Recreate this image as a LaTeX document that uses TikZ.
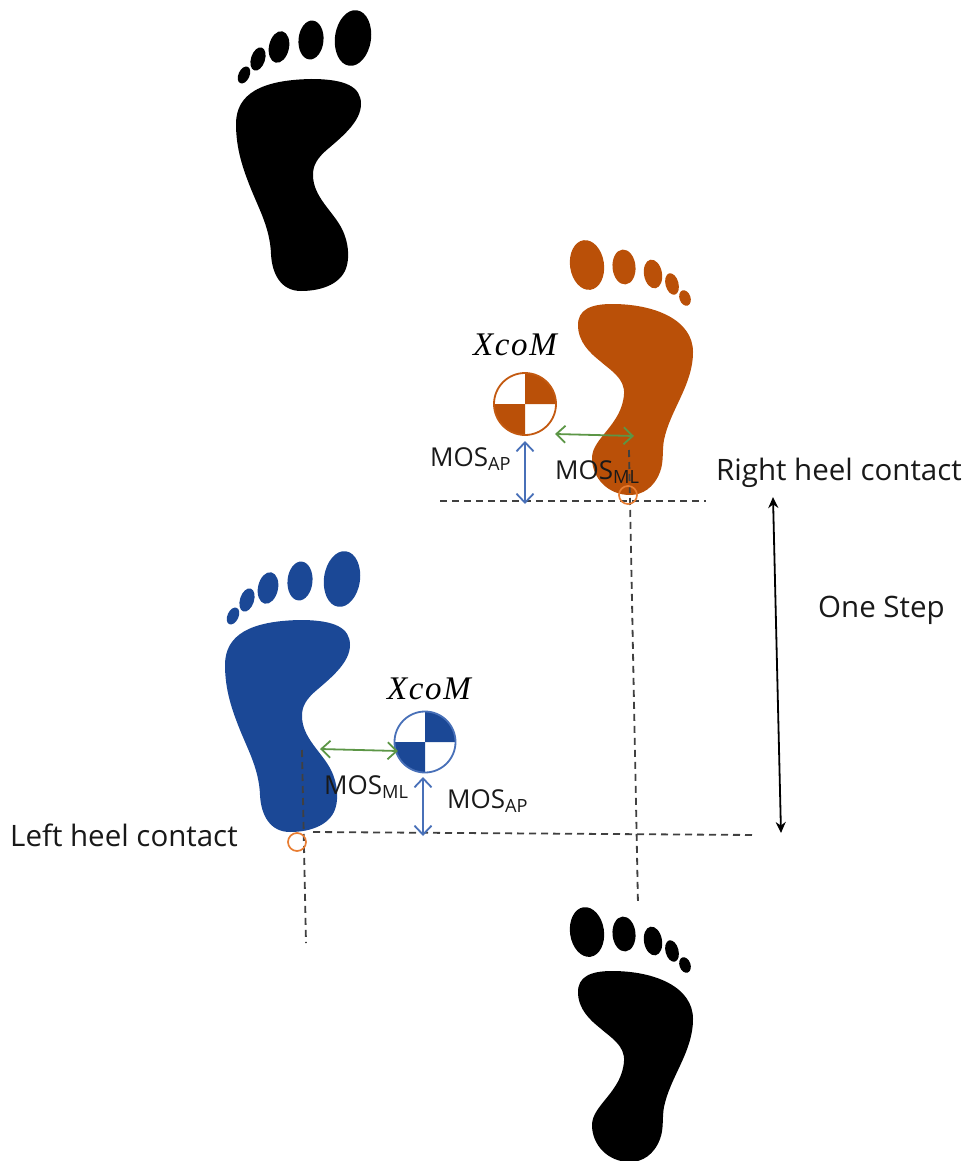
\documentclass[tikz,border=0pt]{standalone}
\usepackage{fontspec}
\setmainfont{Open Sans}
\newfontfamily\mathish{Liberation Serif}[LetterSpace=5]
\usetikzlibrary{arrows.meta}
\definecolor{footorange}{RGB}{186,80,8}
\definecolor{footblue}{RGB}{27,72,150}
\definecolor{arrowblue}{RGB}{72,112,184}
\definecolor{arrowgreen}{RGB}{92,150,70}
\definecolor{ringorange}{RGB}{232,125,50}
\tikzset{
  lbl/.style={inner sep=0pt,font=\fontsize{29.5}{34}\selectfont,text=black!90},
  mos/.style={inner sep=0pt,font=\fontsize{26}{30}\selectfont,text=black!90},
  xcom/.style={inner sep=0pt,font=\fontsize{33}{38}\mathish\itshape\selectfont},
  guide/.style={black!75,line width=1.8pt,dash pattern=on 7pt off 5pt},
  apline/.style={arrowblue,line width=1.8pt,{Straight Barb[length=9pt,width=17pt]}-{Straight Barb[length=9pt,width=17pt]}},
  mlline/.style={arrowgreen,line width=1.8pt,{Straight Barb[length=9pt,width=17pt]}-{Straight Barb[length=9pt,width=17pt]}},
  steparrow/.style={black,line width=1.8pt,{Stealth[length=11pt,width=10pt]}-{Stealth[length=11pt,width=10pt]}},
  heel/.style={circle,draw=ringorange,line width=1.7pt,minimum size=18pt,inner sep=0pt}
}
\newcommand{\leftfoot}[3]{%
 \begin{scope}[shift={(#1,#2)}]
  \fill[#3] (225,665) .. controls (225,635) and (250,621) .. (300,620)
    .. controls (335,620) and (350,628) .. (350,645)
    .. controls (350,662) and (332,677) .. (318,689)
    .. controls (306,699) and (302,706) .. (302,716)
    .. controls (302,738) and (322,752) .. (331,770)
    .. controls (338,784) and (338,798) .. (336,806)
    .. controls (332,824) and (312,832) .. (290,832)
    .. controls (270,832) and (261,815) .. (260,795)
    .. controls (259,770) and (249,752) .. (240,730)
    .. controls (232,710) and (225,690) .. (225,665) -- cycle;
  \fill[#3,rotate around={-8:(342,579)}] (342,579) ellipse [x radius=18,y radius=28];
  \fill[#3,rotate around={-5:(300,581)}] (300,581) ellipse [x radius=12.5,y radius=19.5];
  \fill[#3,rotate around={-12:(268,588)}] (268,588) ellipse [x radius=10,y radius=16];
  \fill[#3,rotate around={-18:(247,600)}] (247,600) ellipse [x radius=7,y radius=12];
  \fill[#3,rotate around={-25:(233,616)}] (233,616) ellipse [x radius=5.5,y radius=9];
 \end{scope}}
\newcommand{\rightfoot}[3]{%
 \begin{scope}[shift={(#1,#2)}]
  \fill[#3] (578,325) .. controls (578,310) and (590,304) .. (612,304)
    .. controls (655,304) and (693,320) .. (693,352)
    .. controls (693,385) and (670,410) .. (664,440)
    .. controls (662,450) and (664,462) .. (660,472)
    .. controls (654,488) and (642,495) .. (630,495)
    .. controls (608,495) and (592,478) .. (592,458)
    .. controls (592,438) and (622,425) .. (624,394)
    .. controls (625,378) and (610,370) .. (600,361)
    .. controls (590,353) and (578,342) .. (578,325) -- cycle;
  \fill[#3,rotate around={8:(587,265)}] (587,265) ellipse [x radius=17,y radius=25];
  \fill[#3,rotate around={5:(624,267)}] (624,267) ellipse [x radius=11.5,y radius=17.5];
  \fill[#3,rotate around={10:(653,274)}] (653,274) ellipse [x radius=9,y radius=14.5];
  \fill[#3,rotate around={15:(672,284)}] (672,284) ellipse [x radius=6.5,y radius=11];
  \fill[#3,rotate around={20:(685,298)}] (685,298) ellipse [x radius=5.5,y radius=8];
 \end{scope}}
\newcommand{\comsym}[5]{%
  \fill[white] (#1,#2) circle (#3);
  \fill[#4] (#1,#2) -- ++(#3,0) arc[start angle=0,end angle=-90,radius=#3] -- cycle;
  \fill[#4] (#1,#2) -- ++(-#3,0) arc[start angle=180,end angle=90,radius=#3] -- cycle;
  \draw[#5,line width=1.8pt] (#1,#2) circle (#3);}
\begin{document}
\begin{tikzpicture}[x=1pt,y=-1pt]
\useasboundingbox (0,0) rectangle (971,1161);
% feet
\leftfoot{11}{-541}{black}
\leftfoot{0}{0}{footblue}
\rightfoot{0}{0}{footorange}
\rightfoot{0}{667}{black}
% centre of mass symbols
\comsym{525}{404}{31}{footorange}{footorange!80!ringorange}
\comsym{425}{742}{30.5}{footblue}{arrowblue}
\node[xcom] (xo) at (515,345) {XcoM};
\node[xcom] (xb) at (429,689) {XcoM};
% coordinates
\coordinate (rA) at (440,501); \coordinate (rB) at (706,501);
\coordinate (lA) at (313,832); \coordinate (lB) at (756,835);
\coordinate (vrA) at (629,450); \coordinate (vrB) at (638,905);
\coordinate (vlA) at (302,750); \coordinate (vlB) at (306,943);
\coordinate (oapA) at (525,441); \coordinate (oapB) at (525,504);
\coordinate (omlA) at (555,434); \coordinate (omlB) at (634,436);
\coordinate (bapA) at (423,777); \coordinate (bapB) at (423,836);
\coordinate (bmlA) at (320,749); \coordinate (bmlB) at (398,751);
\coordinate (sA) at (773,497); \coordinate (sB) at (781,833);
% guides
\draw[guide] (rA) -- (rB);
\draw[guide] (lA) -- (lB);
\draw[guide] (vrA) -- (vrB);
\draw[guide] (vlA) -- (vlB);
% heel markers
\node[heel] (hr) at (628,495) {};
\node[heel] (hl) at (297,842) {};
% arrows
\draw[apline] (oapA) -- (oapB);
\draw[mlline] (omlA) -- (omlB);
\draw[apline] (bapA) -- (bapB);
\draw[mlline] (bmlA) -- (bmlB);
\draw[steparrow] (sA) -- (sB);
% labels
\node[mos,anchor=west] (m1) at (430,459) {MOS\textsubscript{AP}};
\node[mos,anchor=west] (m2) at (555,472) {MOS\textsubscript{ML}};
\node[mos,anchor=west] (m3) at (324,787) {MOS\textsubscript{ML}};
\node[mos,anchor=west] (m4) at (447,801) {MOS\textsubscript{AP}};
\node[lbl,anchor=west] (t1) at (716,473) {Right heel contact};
\node[lbl,anchor=west] (t2) at (818,610) {One Step};
\node[lbl,anchor=west] (t3) at (10,835) {Left heel contact};
\end{tikzpicture}
\end{document}
